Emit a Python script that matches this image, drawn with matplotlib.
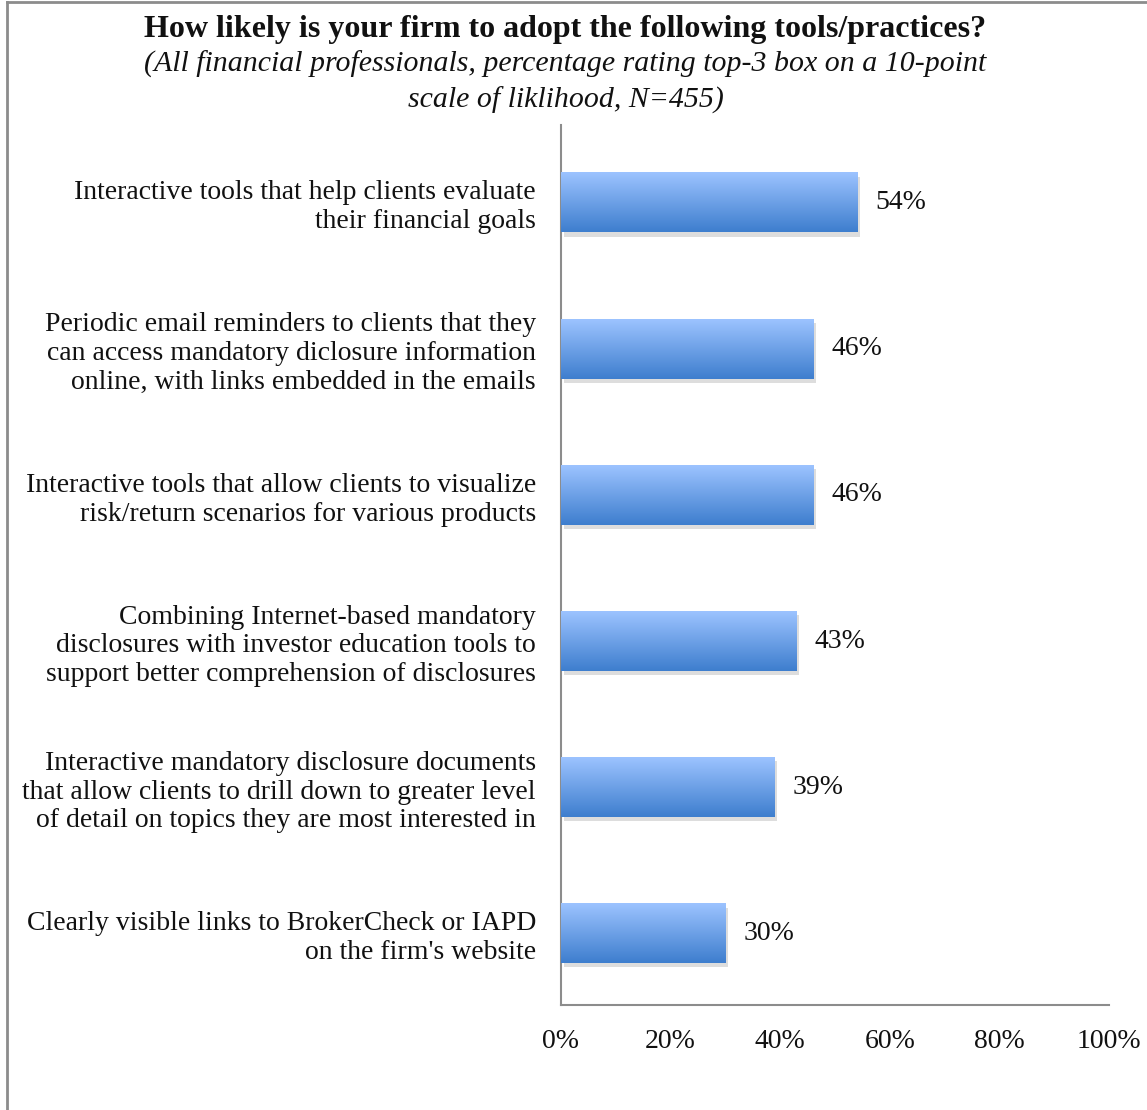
import matplotlib
matplotlib.use("Agg")
import matplotlib.pyplot as plt
import matplotlib.patheffects as pe
from matplotlib.colors import LinearSegmentedColormap
from matplotlib.lines import Line2D
import numpy as np

# data
categories = [
    "Interactive tools that help clients evaluate\ntheir financial goals",
    "Periodic email reminders to clients that they\ncan access mandatory diclosure information\nonline, with links embedded in the emails",
    "Interactive tools that allow clients to visualize\nrisk/return scenarios for various products",
    "Combining Internet-based mandatory\ndisclosures with investor education tools to\nsupport better comprehension of disclosures",
    "Interactive mandatory disclosure documents\nthat allow clients to drill down to greater level\nof detail on topics they are most interested in",
    "Clearly visible links to BrokerCheck or IAPD\non the firm's website",
]
values = [54, 46, 46, 43, 39, 30]
xticks = [0, 20, 40, 60, 80, 100]
xtick_labels = ["0%", "20%", "40%", "60%", "80%", "100%"]

title = "How likely is your firm to adopt the following tools/practices?"
subtitle = "(All financial professionals, percentage rating top-3 box on a 10-point\nscale of liklihood, N=455)"

plt.rcParams["font.family"] = ["Liberation Serif", "DejaVu Serif"]

fig = plt.figure(figsize=(11.47, 11.10), dpi=100)
ax = fig.add_axes([0.489, 0.0946, 0.478, 0.7928])

grad = LinearSegmentedColormap.from_list("barblue", ["#9CC3FF", "#3E7ECE"])
ypos = np.arange(len(values))
bars = ax.barh(ypos, values, height=0.41, color="#6FA0E8", edgecolor="none",
               zorder=2)
for b in bars:
    b.set_path_effects([pe.SimplePatchShadow(offset=(2, -3), alpha=0.18,
                                             shadow_rgbFace="#444444"),
                        pe.Normal()])
    x0, y0, w, h = b.get_x(), b.get_y(), b.get_width(), b.get_height()
    img = ax.imshow(np.linspace(0, 1, 100).reshape(-1, 1), cmap=grad,
                    extent=[x0, x0 + w, y0 + h, y0], aspect="auto",
                    origin="upper", zorder=3)
    img.set_clip_path(b)

for y, v in zip(ypos, values):
    ax.annotate(f"{v}%", xy=(v, y), xytext=(13, 0), textcoords="offset points",
                ha="left", va="center", fontsize=20, color="#111111")

ax.set_xlim(0, 100)
ax.set_ylim(len(values) - 0.51, -0.53)
ax.set_xticks(xticks)
ax.set_xticklabels(xtick_labels, fontsize=20)
ax.set_yticks(ypos)
ax.set_yticklabels(categories, fontsize=20, linespacing=1.2, ha="right")
ax.tick_params(axis="both", length=0, colors="#111111")
ax.tick_params(axis="y", pad=18)
ax.tick_params(axis="x", pad=17)
for s in ["top", "right"]:
    ax.spines[s].set_visible(False)
for s in ["left", "bottom"]:
    ax.spines[s].set_color("#8C8C8C")
    ax.spines[s].set_linewidth(1.5)

fig.text(0.493, 0.973, title, ha="center", va="center", fontsize=23,
         fontweight="bold", color="#111111")
fig.text(0.493, 0.926, subtitle, ha="center", va="center", fontsize=21.5,
         style="italic", linespacing=1.4, color="#111111")

# outer border (left and top only)
fig.add_artist(Line2D([0.0065, 0.0065], [0, 0.998], color="#8C8C8C", lw=2,
                      transform=fig.transFigure))
fig.add_artist(Line2D([0.0065, 1], [0.998, 0.998], color="#8C8C8C", lw=2,
                      transform=fig.transFigure))

fig.savefig("out.png", dpi=100, facecolor="white")
